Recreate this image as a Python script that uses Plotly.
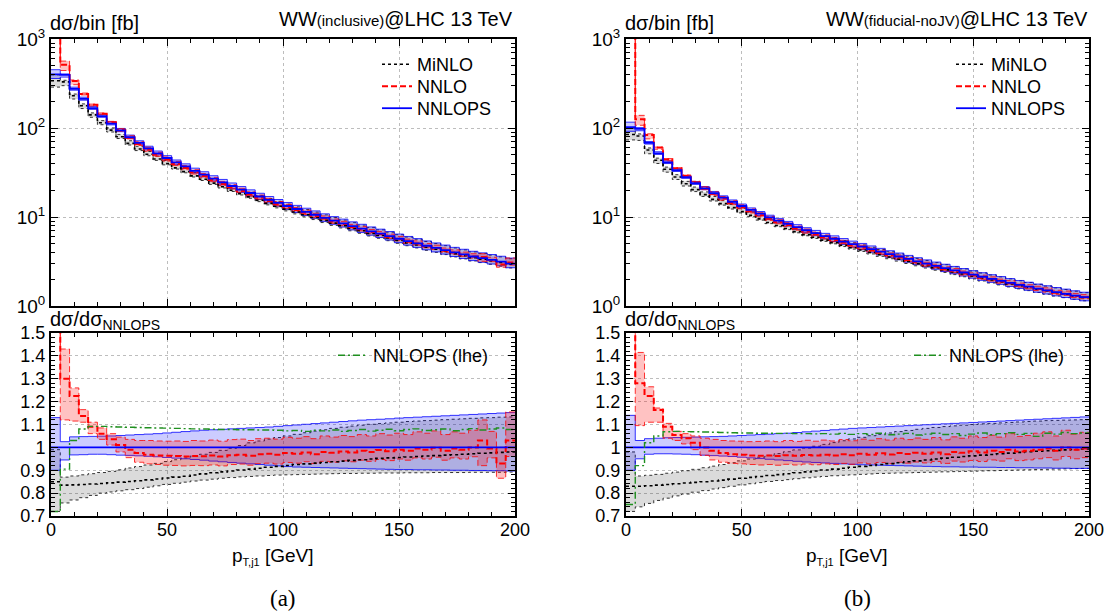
import plotly.graph_objects as go

# ---------------- data ----------------
bin_edges = list(range(0, 204, 4))  # 0..200 GeV, 4 GeV bins

# panel (a): inclusive
nnlops_a = [400, 395, 275, 212, 167, 136, 112, 94, 79, 68,
            59, 52, 46, 41, 37, 33, 30, 27, 24.5, 22.3,
            20.3, 18.6, 17.0, 15.6, 14.4, 13.3, 12.3, 11.4, 10.6, 9.8,
            9.1, 8.5, 7.9, 7.4, 6.9, 6.5, 6.1, 5.7, 5.35, 5.05,
            4.75, 4.5, 4.25, 4.0, 3.8, 3.6, 3.45, 3.3, 3.15, 3.0]
nnlops_up_a = [1.13, 1.025, 1.046, 1.047, 1.048, 1.049, 1.05, 1.052, 1.054, 1.056,
               1.058, 1.06, 1.063, 1.066, 1.069, 1.072, 1.075, 1.077, 1.079, 1.081,
               1.083, 1.085, 1.087, 1.089, 1.092, 1.095, 1.098, 1.101, 1.104, 1.107,
               1.11, 1.113, 1.116, 1.119, 1.121, 1.123, 1.125, 1.128, 1.13, 1.132,
               1.134, 1.136, 1.138, 1.14, 1.142, 1.144, 1.146, 1.148, 1.15, 1.152]
nnlops_lo_a = [0.90, 0.945, 0.967, 0.968, 0.97, 0.97, 0.968, 0.966, 0.965, 0.963,
               0.961, 0.959, 0.956, 0.953, 0.95, 0.947, 0.944, 0.94, 0.937, 0.934,
               0.931, 0.928, 0.925, 0.922, 0.919, 0.916, 0.914, 0.913, 0.912, 0.911,
               0.91, 0.909, 0.908, 0.907, 0.906, 0.905, 0.904, 0.903, 0.903, 0.902,
               0.902, 0.901, 0.901, 0.9, 0.9, 0.899, 0.899, 0.898, 0.898, 0.897]
minlo_a = [0.85, 0.835, 0.836, 0.838, 0.840, 0.842, 0.845, 0.848, 0.851, 0.854,
           0.858, 0.862, 0.866, 0.870, 0.874, 0.879, 0.884, 0.889, 0.893, 0.897,
           0.901, 0.905, 0.909, 0.913, 0.917, 0.921, 0.925, 0.928, 0.931, 0.934,
           0.937, 0.940, 0.943, 0.946, 0.949, 0.952, 0.954, 0.956, 0.958, 0.960,
           0.962, 0.964, 0.966, 0.968, 0.970, 0.972, 0.974, 0.976, 0.978, 0.980]
minlo_lo_a = [0.72, 0.757, 0.77, 0.78, 0.79, 0.80, 0.805, 0.81, 0.815, 0.82,
              0.826, 0.832, 0.838, 0.843, 0.848, 0.853, 0.857, 0.861, 0.865, 0.868,
              0.871, 0.873, 0.875, 0.877, 0.879, 0.880, 0.881, 0.882, 0.883, 0.884,
              0.885, 0.886, 0.886, 0.887, 0.887, 0.888, 0.888, 0.888, 0.889, 0.889,
              0.889, 0.890, 0.890, 0.890, 0.890, 0.891, 0.891, 0.891, 0.891, 0.892]
minlo_up_a = [0.99, 0.87, 0.875, 0.88, 0.885, 0.89, 0.895, 0.902, 0.91, 0.916,
              0.923, 0.93, 0.938, 0.946, 0.954, 0.962, 0.97, 0.978, 0.987, 0.996,
              1.008, 1.02, 1.028, 1.036, 1.043, 1.05, 1.057, 1.064, 1.071, 1.077,
              1.083, 1.088, 1.093, 1.097, 1.101, 1.104, 1.107, 1.11, 1.113, 1.115,
              1.117, 1.119, 1.121, 1.123, 1.125, 1.127, 1.129, 1.13, 1.132, 1.133]
nnlo_a = [4.0, 1.30, 1.225, 1.137, 1.09, 1.06, 1.035, 1.01, 0.99, 0.975,
          0.968, 0.965, 0.963, 0.962, 0.96, 0.962, 0.961, 0.964, 0.96, 0.966,
          0.968, 0.963, 0.97, 0.972, 0.968, 0.975, 0.972, 0.978, 0.97, 0.98,
          0.976, 0.982, 0.978, 0.985, 0.98, 0.988, 0.983, 0.99, 0.985, 0.995,
          0.99, 0.998, 0.985, 0.995, 0.99, 1.0, 1.03, 0.995, 0.93, 1.03]
nnlo_up_a = [4.5, 1.43, 1.26, 1.165, 1.11, 1.085, 1.06, 1.045, 1.035, 1.03,
             1.03, 1.028, 1.027, 1.028, 1.026, 1.03, 1.028, 1.032, 1.027, 1.034,
             1.036, 1.03, 1.038, 1.04, 1.036, 1.044, 1.04, 1.047, 1.038, 1.05,
             1.045, 1.052, 1.047, 1.056, 1.05, 1.06, 1.054, 1.062, 1.056, 1.068,
             1.062, 1.072, 1.056, 1.068, 1.062, 1.075, 1.12, 1.07, 1.0, 1.155]
nnlo_lo_a = [3.5, 1.12, 1.115, 1.11, 1.06, 1.035, 1.01, 0.98, 0.955, 0.935,
             0.928, 0.925, 0.922, 0.921, 0.919, 0.921, 0.92, 0.923, 0.919, 0.925,
             0.927, 0.922, 0.929, 0.931, 0.927, 0.934, 0.931, 0.937, 0.929, 0.939,
             0.935, 0.941, 0.937, 0.944, 0.939, 0.947, 0.942, 0.949, 0.944, 0.954,
             0.949, 0.957, 0.944, 0.954, 0.949, 0.959, 0.92, 0.954, 0.865, 0.96]
lhe_a = [0.72, 0.905, 1.03, 1.08, 1.092, 1.092, 1.09, 1.089, 1.088, 1.087,
         1.086, 1.085, 1.084, 1.083, 1.082, 1.081, 1.08, 1.079, 1.078, 1.078,
         1.077, 1.077, 1.076, 1.076, 1.075, 1.072, 1.074, 1.07, 1.075, 1.072,
         1.076, 1.07, 1.074, 1.078, 1.071, 1.075, 1.079, 1.073, 1.078, 1.081,
         1.074, 1.077, 1.08, 1.073, 1.078, 1.082, 1.076, 1.08, 1.085, 1.078]

# panel (b): fiducial-noJV
nnlops_b = [102, 98, 68, 52, 41, 33.5, 28, 24, 21, 18.5,
            16.5, 14.8, 13.3, 12.0, 10.9, 9.9, 9.1, 8.4, 7.7, 7.1,
            6.6, 6.1, 5.7, 5.3, 4.95, 4.65, 4.35, 4.08, 3.83, 3.6,
            3.38, 3.18, 3.0, 2.83, 2.67, 2.52, 2.38, 2.25, 2.13, 2.02,
            1.92, 1.82, 1.73, 1.65, 1.57, 1.5, 1.43, 1.37, 1.31, 1.26]
nnlops_up_b = [1.14, 1.03, 1.038, 1.04, 1.042, 1.043, 1.044, 1.045, 1.046, 1.047,
               1.048, 1.05, 1.052, 1.054, 1.056, 1.058, 1.06, 1.062, 1.065, 1.068,
               1.071, 1.074, 1.077, 1.08, 1.083, 1.085, 1.087, 1.089, 1.091, 1.093,
               1.095, 1.097, 1.099, 1.101, 1.103, 1.105, 1.107, 1.109, 1.111, 1.113,
               1.115, 1.117, 1.119, 1.121, 1.123, 1.125, 1.127, 1.129, 1.131, 1.133]
nnlops_lo_b = [0.90, 0.95, 0.97, 0.972, 0.972, 0.971, 0.97, 0.968, 0.966, 0.964,
               0.962, 0.96, 0.957, 0.954, 0.951, 0.948, 0.945, 0.942, 0.939, 0.936,
               0.934, 0.932, 0.93, 0.928, 0.926, 0.924, 0.923, 0.922, 0.921, 0.92,
               0.919, 0.918, 0.917, 0.916, 0.915, 0.915, 0.914, 0.914, 0.913, 0.913,
               0.912, 0.912, 0.911, 0.911, 0.91, 0.91, 0.909, 0.909, 0.908, 0.908]
minlo_b = [0.83, 0.83, 0.832, 0.835, 0.838, 0.841, 0.844, 0.847, 0.85, 0.853,
           0.857, 0.861, 0.865, 0.869, 0.873, 0.877, 0.881, 0.885, 0.889, 0.893,
           0.897, 0.901, 0.905, 0.909, 0.913, 0.917, 0.921, 0.925, 0.929, 0.933,
           0.937, 0.941, 0.945, 0.949, 0.953, 0.957, 0.96, 0.963, 0.966, 0.969,
           0.972, 0.975, 0.978, 0.981, 0.983, 0.985, 0.987, 0.989, 0.991, 0.993]
minlo_lo_b = [0.72, 0.74, 0.755, 0.768, 0.778, 0.788, 0.796, 0.804, 0.811, 0.818,
              0.824, 0.83, 0.836, 0.841, 0.846, 0.851, 0.855, 0.859, 0.863, 0.867,
              0.87, 0.873, 0.876, 0.878, 0.88, 0.882, 0.884, 0.886, 0.887, 0.888,
              0.889, 0.89, 0.891, 0.892, 0.893, 0.894, 0.895, 0.896, 0.897, 0.898,
              0.899, 0.9, 0.901, 0.902, 0.903, 0.904, 0.905, 0.906, 0.907, 0.908]
minlo_up_b = [0.98, 0.875, 0.878, 0.882, 0.887, 0.892, 0.898, 0.904, 0.911, 0.918,
              0.925, 0.933, 0.941, 0.949, 0.957, 0.965, 0.973, 0.981, 0.989, 0.997,
              1.005, 1.013, 1.021, 1.029, 1.037, 1.044, 1.051, 1.057, 1.063, 1.069,
              1.074, 1.079, 1.083, 1.087, 1.091, 1.094, 1.097, 1.1, 1.103, 1.105,
              1.107, 1.109, 1.111, 1.113, 1.115, 1.117, 1.118, 1.119, 1.12, 1.121]
nnlo_b = [14.0, 1.28, 1.225, 1.163, 1.09, 1.054, 1.04, 1.02, 1.0, 0.985,
          0.975, 0.97, 0.968, 0.965, 0.963, 0.965, 0.962, 0.966, 0.963, 0.967,
          0.964, 0.968, 0.965, 0.97, 0.966, 0.972, 0.968, 0.974, 0.969, 0.975,
          0.971, 0.976, 0.972, 0.978, 0.97, 0.98, 0.976, 0.983, 0.978, 0.985,
          0.98, 0.99, 0.982, 0.985, 0.99, 0.995, 0.985, 1.0, 0.99, 0.995]
nnlo_up_b = [16.0, 1.415, 1.265, 1.172, 1.105, 1.07, 1.06, 1.05, 1.04, 1.035,
             1.03, 1.028, 1.027, 1.025, 1.026, 1.028, 1.025, 1.03, 1.026, 1.031,
             1.027, 1.032, 1.028, 1.034, 1.029, 1.036, 1.031, 1.038, 1.032, 1.04,
             1.034, 1.041, 1.035, 1.043, 1.033, 1.046, 1.04, 1.05, 1.043, 1.053,
             1.045, 1.06, 1.048, 1.052, 1.062, 1.068, 1.05, 1.075, 1.058, 1.066]
nnlo_lo_b = [12.0, 1.095, 1.11, 1.11, 1.04, 1.03, 1.015, 0.99, 0.965, 0.945,
             0.935, 0.93, 0.928, 0.925, 0.923, 0.925, 0.922, 0.926, 0.923, 0.927,
             0.924, 0.928, 0.925, 0.93, 0.926, 0.932, 0.928, 0.934, 0.929, 0.935,
             0.931, 0.936, 0.932, 0.938, 0.93, 0.94, 0.936, 0.943, 0.938, 0.945,
             0.94, 0.95, 0.942, 0.945, 0.95, 0.955, 0.945, 0.96, 0.95, 0.955]
lhe_b = [0.75, 0.92, 1.02, 1.05, 1.068, 1.07, 1.069, 1.068, 1.067, 1.066,
         1.065, 1.064, 1.063, 1.063, 1.062, 1.062, 1.061, 1.061, 1.06, 1.06,
         1.059, 1.06, 1.058, 1.061, 1.057, 1.06, 1.056, 1.062, 1.055, 1.058,
         1.061, 1.054, 1.058, 1.062, 1.056, 1.06, 1.052, 1.058, 1.063, 1.055,
         1.06, 1.064, 1.057, 1.061, 1.048, 1.062, 1.058, 1.065, 1.06, 1.063]

x_tick_vals = [0, 50, 100, 150, 200]
log_tick_vals = [1, 10, 100, 1000]
log_tick_text = ["10<sup>0</sup>", "10<sup>1</sup>", "10<sup>2</sup>", "10<sup>3</sup>"]
ratio_tick_vals = [0.7, 0.8, 0.9, 1.0, 1.1, 1.2, 1.3, 1.4, 1.5]
ratio_tick_text = ["0.7", "0.8", "0.9", "1", "1.1", "1.2", "1.3", "1.4", "1.5"]

# ---------------- styling ----------------
W, H = 1109, 614
FONT = "Liberation Sans, Arial, Helvetica, sans-serif"
C_MINLO, C_NNLO, C_NNLOPS, C_LHE = "#000000", "#ff0000", "#0000ff", "#1f8f1f"
F_MINLO, F_NNLO, F_NNLOPS = "rgba(0,0,0,0.14)", "rgba(255,0,0,0.24)", "rgba(0,0,255,0.2)"
DASH_NNLO = "6px,3px"
DASH_LHE = "7px,3px,2px,3px"


def step(v):
    return list(v) + [v[-1]]


def mul(a, b):
    return [x * y for x, y in zip(a, b)]


fig = go.Figure()


def add_band(xa, ya, lo, up, fill, color, dash):
    fig.add_trace(go.Scatter(x=bin_edges, y=step(lo), xaxis=xa, yaxis=ya, mode="lines",
                             line=dict(color=color, width=0.8, dash=dash, shape="hv"),
                             showlegend=False, hoverinfo="skip"))
    fig.add_trace(go.Scatter(x=bin_edges, y=step(up), xaxis=xa, yaxis=ya, mode="lines",
                             line=dict(color=color, width=0.8, dash=dash, shape="hv"),
                             fill="tonexty", fillcolor=fill,
                             showlegend=False, hoverinfo="skip"))


def add_line(xa, ya, vals, color, dash, width, name=None, legend=None):
    fig.add_trace(go.Scatter(x=bin_edges, y=step(vals), xaxis=xa, yaxis=ya, mode="lines",
                             line=dict(color=color, width=width, dash=dash, shape="hv"),
                             name=name, showlegend=name is not None,
                             legend=legend if legend else "legend"))


panels = [
    dict(xt="x", yt="y", xb="x2", yb="y2", base=nnlops_a, nup=nnlops_up_a, nlo=nnlops_lo_a,
         m=minlo_a, mlo=minlo_lo_a, mup=minlo_up_a, n=nnlo_a, nlo2=nnlo_lo_a, nup2=nnlo_up_a,
         lhe=lhe_a, lg=["legend", "legend2", "legend3", "legend4"]),
    dict(xt="x3", yt="y3", xb="x4", yb="y4", base=nnlops_b, nup=nnlops_up_b, nlo=nnlops_lo_b,
         m=minlo_b, mlo=minlo_lo_b, mup=minlo_up_b, n=nnlo_b, nlo2=nnlo_lo_b, nup2=nnlo_up_b,
         lhe=lhe_b, lg=["legend5", "legend6", "legend7", "legend8"]),
]

ones = [1.0] * len(nnlops_a)
for p in panels:
    b = p["base"]
    lg = p["lg"]
    # top: absolute distributions
    add_band(p["xt"], p["yt"], mul(b, p["mlo"]), mul(b, p["mup"]), F_MINLO, C_MINLO, "dot")
    add_band(p["xt"], p["yt"], mul(b, p["nlo"]), mul(b, p["nup"]), F_NNLOPS, C_NNLOPS, "solid")
    add_band(p["xt"], p["yt"], mul(b, p["nlo2"]), mul(b, p["nup2"]), F_NNLO, C_NNLO, DASH_NNLO)
    add_line(p["xt"], p["yt"], mul(b, p["m"]), C_MINLO, "dot", 1.6, "MiNLO", lg[0])
    add_line(p["xt"], p["yt"], mul(b, p["n"]), C_NNLO, DASH_NNLO, 2, "NNLO", lg[1])
    add_line(p["xt"], p["yt"], b, C_NNLOPS, "solid", 1.8, "NNLOPS", lg[2])
    # bottom: ratios to NNLOPS
    add_band(p["xb"], p["yb"], p["mlo"], p["mup"], F_MINLO, C_MINLO, "dot")
    add_band(p["xb"], p["yb"], p["nlo"], p["nup"], F_NNLOPS, C_NNLOPS, "solid")
    add_band(p["xb"], p["yb"], p["nlo2"], p["nup2"], F_NNLO, C_NNLO, DASH_NNLO)
    add_line(p["xb"], p["yb"], p["m"], C_MINLO, "dot", 1.6)
    add_line(p["xb"], p["yb"], p["n"], C_NNLO, DASH_NNLO, 2)
    add_line(p["xb"], p["yb"], ones, C_NNLOPS, "solid", 1.6)
    add_line(p["xb"], p["yb"], p["lhe"], C_LHE, DASH_LHE, 1.4, "NNLOPS (lhe)", lg[3])

# ---------------- axes ----------------
xa_dom = [51 / W, 515 / W]
xb_dom = [626 / W, 1089 / W]
top_dom = [1 - 306 / H, 1 - 39 / H]
bot_dom = [1 - 516 / H, 1 - 333 / H]

common = dict(showline=True, linecolor="black", linewidth=2, mirror="allticks",
              ticks="inside", tickcolor="black", tickwidth=1.3, ticklen=7,
              showgrid=True, gridcolor="#bdbdbd", griddash="dot", gridwidth=1,
              zeroline=False, automargin=False,
              tickfont=dict(family=FONT, size=18, color="black"))

minor_log = [k * 10 ** e for e in range(0, 3) for k in range(2, 10)]


def xaxis_cfg(dom, anchor, labels):
    return dict(common, domain=dom, anchor=anchor, range=[0, 200],
                tickvals=x_tick_vals, showticklabels=labels, ticklabelstandoff=-4,
                minor=dict(dtick=10, tick0=0, ticks="inside", ticklen=4, tickcolor="black",
                           tickwidth=1.2, showgrid=False))


def ylog_cfg(dom, anchor):
    return dict(common, domain=dom, anchor=anchor, type="log", range=[0, 3],
                tickvals=log_tick_vals, ticktext=log_tick_text,
                tickfont=dict(family=FONT, size=19, color="black"),
                minor=dict(tickvals=minor_log, ticks="inside", ticklen=4, tickcolor="black",
                           tickwidth=1.2, showgrid=False))


def yrat_cfg(dom, anchor):
    return dict(common, domain=dom, anchor=anchor, range=[0.7, 1.5],
                tickvals=ratio_tick_vals, ticktext=ratio_tick_text,
                minor=dict(dtick=0.02, tick0=0.7, ticks="inside", ticklen=4, tickcolor="black",
                           tickwidth=1.2, showgrid=False))


legend_common = dict(bgcolor="rgba(0,0,0,0)", borderwidth=0, traceorder="normal",
                     font=dict(family=FONT, size=18, color="black"),
                     xanchor="left", yanchor="top", tracegroupgap=0, itemwidth=30)


def leg(x, y_top):
    return dict(legend_common, x=x / W, y=1 - y_top / H)


ann = []


def text(x, y, s, size=20, xanchor="left", family=FONT):
    ann.append(dict(x=x / W, y=1 - y / H, xref="paper", yref="paper", text=s, showarrow=False,
                    xanchor=xanchor, yanchor="middle", font=dict(family=family, size=size, color="black")))


text(48, 23, "dσ/bin [fb]")
text(515, 19, "WW<span style='font-size:15px'>(inclusive)</span>@LHC 13 TeV", xanchor="right")
text(623, 23, "dσ/bin [fb]")
text(1090, 19, "WW<span style='font-size:15px'>(fiducial-noJV)</span>@LHC 13 TeV", xanchor="right")
text(48, 320, "dσ/dσ<sub>NNLOPS</sub>")
text(623, 320, "dσ/dσ<sub>NNLOPS</sub>")
text(273, 556, "p<sub><span style='font-size:11px'>T,j1</span></sub> [GeV]", size=19, xanchor="center")
text(847, 556, "p<sub><span style='font-size:11px'>T,j1</span></sub> [GeV]", size=19, xanchor="center")
text(283, 598, "(a)", size=23, xanchor="center", family="Liberation Serif, Times New Roman, serif")
text(857, 598, "(b)", size=23, xanchor="center", family="Liberation Serif, Times New Roman, serif")

fig.update_layout(
    width=W, height=H, margin=dict(l=0, r=0, t=0, b=0, autoexpand=False),
    paper_bgcolor="white", plot_bgcolor="white",
    font=dict(family=FONT, color="black"),
    xaxis=xaxis_cfg(xa_dom, "y", False), yaxis=ylog_cfg(top_dom, "x"),
    xaxis2=xaxis_cfg(xa_dom, "y2", True), yaxis2=yrat_cfg(bot_dom, "x2"),
    xaxis3=xaxis_cfg(xb_dom, "y3", False), yaxis3=ylog_cfg(top_dom, "x3"),
    xaxis4=xaxis_cfg(xb_dom, "y4", True), yaxis4=yrat_cfg(bot_dom, "x4"),
    legend=leg(377, 46), legend2=leg(377, 68), legend3=leg(377, 90), legend4=leg(333, 337),
    legend5=leg(951, 46), legend6=leg(951, 68), legend7=leg(951, 90), legend8=leg(909, 337),
    annotations=ann,
    showlegend=True,
)

fig.write_html("out.html", config={"displayModeBar": False},
               post_script="document.body.style.margin='0';document.body.style.padding='0';")
